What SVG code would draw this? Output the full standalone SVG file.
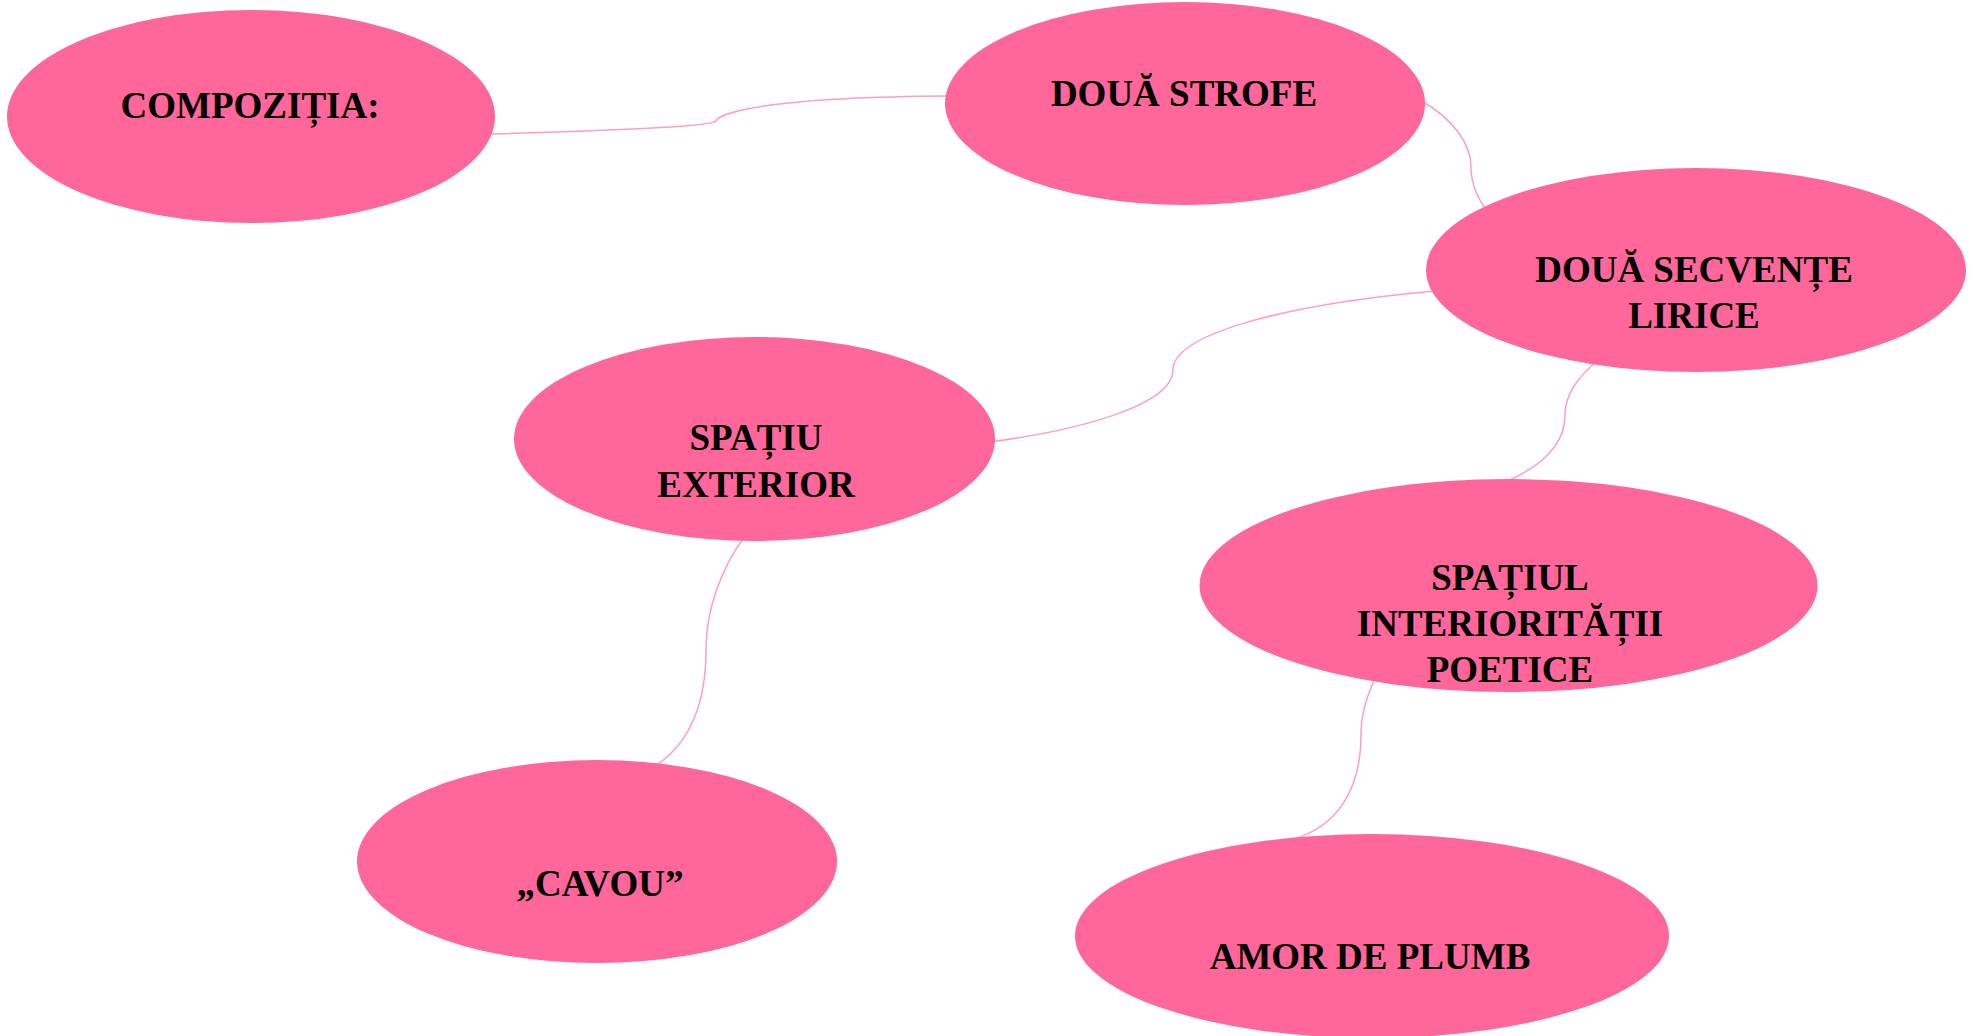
<svg xmlns="http://www.w3.org/2000/svg" width="1971" height="1036" viewBox="0 0 1971 1036">
<style>
.node{fill:#ff6699;}
.lbl{font-family:"Liberation Serif","Times New Roman",serif;font-weight:bold;font-size:37px;fill:#000;text-anchor:middle;}
.conn{fill:none;stroke:#ff9ec0;stroke-width:1.5;}
</style>
<rect width="1971" height="1036" fill="#ffffff"/>
<g id="connectors">
<path class="conn" d="M 491,134 C 640,130 712,126 716,121 C 719,114 760,97 950,96"/>
<path class="conn" d="M 1420,100 C 1455,120 1471,145 1471,167 C 1471,185 1478,200 1490,215"/>
<path class="conn" d="M 1435,291 C 1280,305 1173,335 1173,370 C 1173,405 1080,430 990,442"/>
<path class="conn" d="M 1598,360 C 1577,378 1565,395 1565,415 C 1565,442 1545,465 1505,482"/>
<path class="conn" d="M 745,536 C 721,568 706,610 706,650 C 706,700 692,742 655,766"/>
<path class="conn" d="M 1376,676 C 1366,698 1361,715 1361,735 C 1361,790 1337,828 1290,840"/>
</g>
<g id="node-compozitia">
<ellipse class="node" cx="251" cy="116.5" rx="244" ry="106.5"/>
<text class="lbl" x="250" y="118">COMPOZIȚIA:</text>
</g>
<g id="node-doua-strofe">
<ellipse class="node" cx="1185" cy="103.5" rx="240" ry="101.5"/>
<text class="lbl" x="1184" y="106">DOUĂ STROFE</text>
</g>
<g id="node-doua-secvente">
<ellipse class="node" cx="1696" cy="270" rx="270" ry="102"/>
<text class="lbl" x="1694" y="282">DOUĂ SECVENȚE</text>
<text class="lbl" x="1694" y="328">LIRICE</text>
</g>
<g id="node-spatiu-exterior">
<ellipse class="node" cx="754.5" cy="439" rx="240.5" ry="102"/>
<text class="lbl" x="756" y="450">SPAȚIU</text>
<text class="lbl" x="756" y="497">EXTERIOR</text>
</g>
<g id="node-spatiul-interioritatii">
<ellipse class="node" cx="1508.5" cy="585.5" rx="309" ry="106.5"/>
<text class="lbl" x="1510" y="590">SPAȚIUL</text>
<text class="lbl" x="1510" y="636">INTERIORITĂȚII</text>
<text class="lbl" x="1510" y="682">POETICE</text>
</g>
<g id="node-cavou">
<ellipse class="node" cx="597" cy="861.5" rx="240" ry="101.5"/>
<text class="lbl" x="600" y="896">„CAVOU”</text>
</g>
<g id="node-amor-de-plumb">
<ellipse class="node" cx="1372" cy="936" rx="297" ry="102"/>
<text class="lbl" x="1370" y="969">AMOR DE PLUMB</text>
</g>
</svg>
